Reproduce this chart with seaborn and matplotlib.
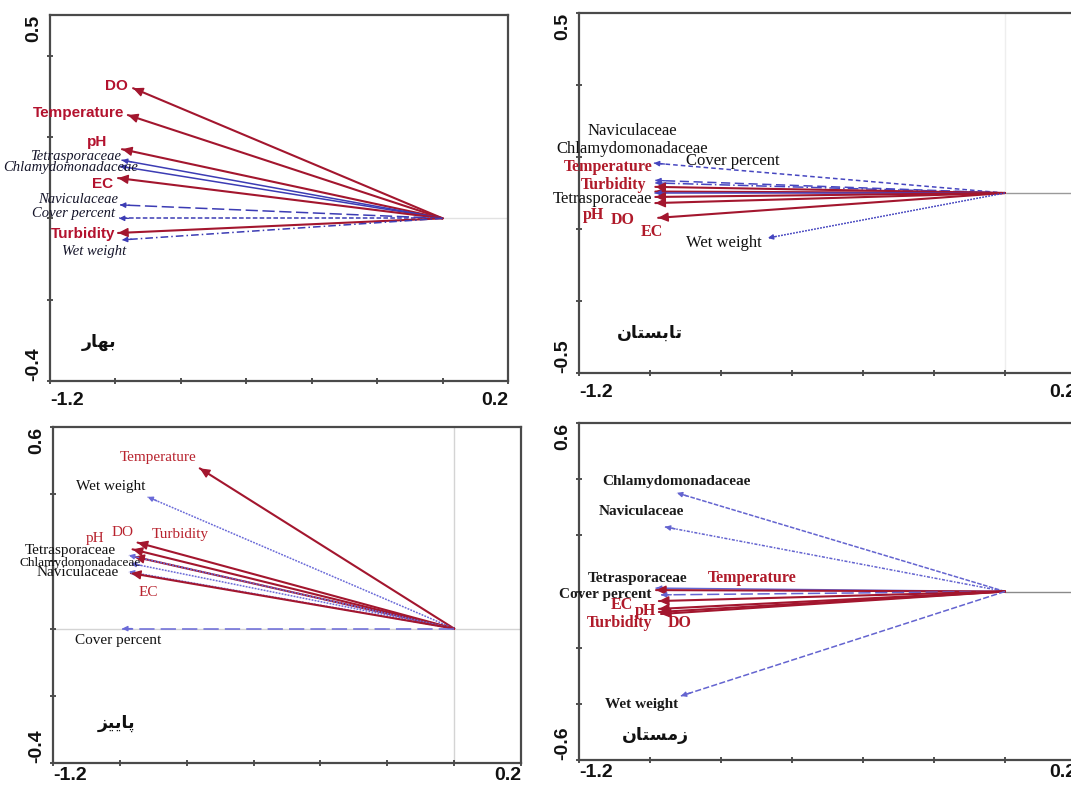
import numpy as np
import pandas as pd
import matplotlib
matplotlib.use("Agg")
import matplotlib.pyplot as plt
import matplotlib.transforms as mtransforms
import seaborn as sns

# ---------------- data ----------------
season_names = ['بهار', 'تابستان', 'پاییز', 'زمستان']
env_vars = ['DO', 'Temperature', 'pH', 'EC', 'Turbidity']

spring_vars = ['DO', 'Temperature', 'pH', 'Tetrasporaceae', 'Chlamydomonadaceae',
               'EC', 'Naviculaceae', 'Cover percent', 'Turbidity', 'Wet weight']
spring_x = [-0.946, -0.962, -0.980, -0.980, -0.986, -0.992, -0.986, -0.989, -0.992, -0.980]
spring_y = [0.320, 0.254, 0.170, 0.143, 0.128, 0.099, 0.033, 0.000, -0.036, -0.053]

summer_vars = ['Naviculaceae', 'Chlamydomonadaceae', 'Cover percent', 'Temperature', 'Turbidity',
               'Tetrasporaceae', 'pH', 'DO', 'EC', 'Wet weight']
summer_x = [-0.985, -0.985, -0.989, -0.985, -0.985, -0.985, -0.985, -0.985, -0.977, -0.668]
summer_y = [0.035, 0.028, 0.083, 0.017, 0.004, 0.000, -0.011, -0.028, -0.069, -0.125]

autumn_vars = ['Temperature', 'Wet weight', 'DO', 'pH', 'Turbidity', 'Tetrasporaceae',
               'Chlamydomonadaceae', 'Naviculaceae', 'EC', 'Cover percent']
autumn_x = [-0.761, -0.917, -0.947, -0.962, -0.957, -0.973, -0.967, -0.973, -0.967, -0.993]
autumn_y = [0.477, 0.392, 0.256, 0.236, 0.214, 0.218, 0.194, 0.169, 0.165, 0.000]

winter_vars = ['Chlamydomonadaceae', 'Naviculaceae', 'Tetrasporaceae', 'Temperature', 'Cover percent',
               'EC', 'pH', 'Turbidity', 'DO', 'Wet weight']
winter_x = [-0.924, -0.958, -0.983, -0.983, -0.969, -0.975, -0.975, -0.975, -0.969, -0.913]
winter_y = [0.351, 0.230, 0.012, 0.005, -0.012, -0.034, -0.062, -0.073, -0.080, -0.372]

x_range = [-1.2, 0.2]
y_ranges = [[-0.4, 0.5], [-0.5, 0.5], [-0.4, 0.6], [-0.6, 0.6]]

# ---------------- layout / style (not data) ----------------
W, H = 1071, 787
axes_px = [(50, 15, 508, 381), (579, 13, 1076, 373), (53, 427, 521, 763), (579, 423, 1076, 760)]

# label offsets in pixels: right end of the label relative to the arrow tip
spring_off = [(-5, 2), (-4, 2), (-15, 7), (-1, 4), (18, -1), (-5, -6), (-2, 5), (-4, 5), (-3, -1), (4, -12)]
summer_off = [(22, 49), (53, 34), (126, 2), (-3, 20), (-9, 7), (-3, -6), (-51, -18), (-21, -17), (5, -14), (-6, -5)]
autumn_off = [(-3, 11), (-2, 10), (-4, 10), (-28, 11), (75, 22), (-13, 5), (10, 0), (-10, -1), (27, -19), (39, -12)]
winter_off = [(74, 11), (19, 15), (31, 10), (141, 12), (-10, 0), (-26, -4), (-3, -2), (-7, -11), (31, -9), (-3, -9)]

season_pos = [(0.107, 0.107), (0.143, 0.111), (0.135, 0.119), (0.153, 0.074)]

panel_style = [
    dict(env_font=('Liberation Sans', 'bold', 'normal', 11), sp_font=('Liberation Serif', 'normal', 'italic', 10.5),
         red='#A3162E', red_text='#B3122E', blue='#3C3CB4', sp_text='#15152a', red_lw=1.5, blue_lw=1.1,
         dashes={'Tetrasporaceae': '', 'Chlamydomonadaceae': '', 'Naviculaceae': (8, 3),
                 'Cover percent': (3, 1.5), 'Wet weight': (5, 2, 1, 2)},
         xlab_pad=11, hline=('#e2e2e2', True), vline=None),
    dict(env_font=('Liberation Serif', 'bold', 'normal', 11.5), sp_font=('Liberation Serif', 'normal', 'normal', 12),
         red='#A3162E', red_text='#B01A2A', blue='#4646C0', sp_text='#111111', red_lw=1.5, blue_lw=1.1,
         dashes={'Tetrasporaceae': '', 'Chlamydomonadaceae': (7, 2, 1, 2), 'Naviculaceae': (6, 3),
                 'Cover percent': (3, 2), 'Wet weight': (1.2, 0.8)},
         xlab_pad=11, hline=('#9a9a9a', True), vline='#eeeeee'),
    dict(env_font=('Liberation Serif', 'normal', 'normal', 11), sp_font=('Liberation Serif', 'normal', 'normal', 11),
         red='#A3162E', red_text='#B8232E', blue='#6a6ad8', sp_text='#111111', red_lw=1.5, blue_lw=1.1,
         dashes={'Tetrasporaceae': (1.2, 0.8), 'Chlamydomonadaceae': (1.2, 0.8), 'Naviculaceae': (1.2, 0.8),
                 'Cover percent': (10, 4), 'Wet weight': (1.2, 0.8)},
         xlab_pad=4, hline=('#d4d4d4', False), vline='#d4d4d4'),
    dict(env_font=('Liberation Serif', 'bold', 'normal', 11.5), sp_font=('Liberation Serif', 'bold', 'normal', 11),
         red='#A3162E', red_text='#B01A2A', blue='#6464D0', sp_text='#1a1a1a', red_lw=1.5, blue_lw=1.1,
         dashes={'Tetrasporaceae': '', 'Chlamydomonadaceae': (3, 1), 'Naviculaceae': (2, 1, 1, 1),
                 'Cover percent': (8, 3), 'Wet weight': (4, 1.5)},
         xlab_pad=4, hline=('#8a8a8a', True), vline=None),
]
size_override = {(2, 'Chlamydomonadaceae'): 9.5}


def persian(word):
    dual = {'ب': 'ﺏﺐﺑﺒ', 'ه': 'ﻩﻪﻫﻬ', 'ت': 'ﺕﺖﺗﺘ',
            'س': 'ﺱﺲﺳﺴ', 'ن': 'ﻥﻦﻧﻨ', 'م': 'ﻡﻢﻣﻤ',
            'پ': 'ﭖﭗﭘﭙ', 'ی': 'ﯼﯽﯾﯿ'}
    right = {'ا': 'ﺍﺎ', 'ر': 'ﺭﺮ', 'ز': 'ﺯﺰ'}
    out = []
    for i, ch in enumerate(word):
        jp = i > 0 and word[i - 1] in dual
        jn = i < len(word) - 1 and ch in dual
        if ch in dual:
            iso, fin, ini, med = dual[ch]
            out.append(med if (jp and jn) else fin if jp else ini if jn else iso)
        elif ch in right:
            iso, fin = right[ch]
            out.append(fin if jp else iso)
        else:
            out.append(ch)
    return ''.join(reversed(out))


sns.set_style('white')
plt.rcParams['font.family'] = ['Liberation Sans', 'DejaVu Sans']

fig = plt.figure(figsize=(W / 100, H / 100), dpi=100)

panels = [(spring_vars, spring_x, spring_y, spring_off),
          (summer_vars, summer_x, summer_y, summer_off),
          (autumn_vars, autumn_x, autumn_y, autumn_off),
          (winter_vars, winter_x, winter_y, winter_off)]

for k, (names, xs, ys, offs) in enumerate(panels):
    st = panel_style[k]
    l, t, r, b = axes_px[k]
    ax = fig.add_axes([l / W, 1 - b / H, (r - l) / W, (b - t) / H])
    ymin, ymax = y_ranges[k]
    ax.set_xlim(*x_range)
    ax.set_ylim(ymin, ymax)

    # reference lines through the origin
    x0frac = (0 - x_range[0]) / (x_range[1] - x_range[0])
    hcol, from_origin = st['hline']
    ax.axhline(0, xmin=x0frac if from_origin else 0, xmax=1, color=hcol, lw=1, zorder=0.5)
    if st['vline']:
        ax.axvline(0, color=st['vline'], lw=1, zorder=0.5)

    # long-form table: each variable is a segment from the origin to its tip
    rows = []
    for n, x, y in zip(names, xs, ys):
        rows.append((n, 0.0, 0.0, 0))
        rows.append((n, x, y, 1))
    df = pd.DataFrame(rows, columns=['var', 'x', 'y', 'order'])
    palette = {n: (st['red'] if n in env_vars else st['blue']) for n in names}
    sizes = {n: (st['red_lw'] if n in env_vars else st['blue_lw']) for n in names}
    dashes = {n: ('' if n in env_vars else st['dashes'][n]) for n in names}
    sns.lineplot(data=df, x='x', y='y', hue='var', size='var', style='var',
                 palette=palette, sizes=sizes, dashes=dashes,
                 estimator=None, sort=False, legend=False, ax=ax, zorder=2)

    # arrow heads and labels
    for n, x, y, (dx, dy) in zip(names, xs, ys, offs):
        is_env = n in env_vars
        col = st['red'] if is_env else st['blue']
        hl, hw = (0.6, 0.28) if is_env else (0.3, 0.15)
        ax.annotate('', xy=(x, y), xytext=(x * 0.97, y * 0.97),
                    arrowprops=dict(arrowstyle=f'-|>,head_length={hl},head_width={hw}',
                                    color=col, lw=1.0, shrinkA=0, shrinkB=0, mutation_scale=10),
                    zorder=3)
        fam, wt, sty, fs = st['env_font'] if is_env else st['sp_font']
        fs = size_override.get((k, n), fs)
        ax.annotate(n, xy=(x, y), xytext=(dx, dy), textcoords='offset pixels',
                    ha='right', va='center', fontsize=fs, family=fam, weight=wt, style=sty,
                    color=st['red_text'] if is_env else st['sp_text'], zorder=4,
                    annotation_clip=False)

    # season name
    sx, sy = season_pos[k]
    ax.text(sx, sy, persian(season_names[k]), transform=ax.transAxes, ha='center', va='center',
            fontsize=12.5, weight='bold', family=['DejaVu Sans'], color='#111111')

    # frame and ticks
    for sp in ax.spines.values():
        sp.set_color('#4a4a4a')
        sp.set_linewidth(1.6)
    ax.set_xticks(np.round(np.arange(x_range[0], x_range[1] + 1e-9, 0.2), 2))
    ax.set_yticks(np.round(np.arange(ymin, ymax + 1e-9, 0.2), 2))
    ax.tick_params(direction='inout', length=5, width=1.2, color='#333333',
                   labelbottom=False, labelleft=False, bottom=True, left=True)
    ax.set_xlabel('')
    ax.set_ylabel('')

    # axis end labels
    tick_kw = dict(fontsize=14, weight='bold', color='#111111', family=['Liberation Sans'])
    tx = mtransforms.offset_copy(ax.transAxes, fig=fig, x=0, y=-st['xlab_pad'], units='dots')
    ax.text(0, 0, f'{x_range[0]:g}', transform=tx, ha='left', va='top', **tick_kw)
    ax.text(1, 0, f'{x_range[1]:g}', transform=tx, ha='right', va='top', **tick_kw)
    ty = mtransforms.offset_copy(ax.transAxes, fig=fig, x=-16, y=0, units='dots')
    ax.text(0, 1, f'{ymax:g}', transform=ty, rotation=90, ha='center', va='top', **tick_kw)
    ax.text(0, 0, f'{ymin:g}', transform=ty, rotation=90, ha='center', va='bottom', **tick_kw)

fig.savefig('out.png', dpi=100)
